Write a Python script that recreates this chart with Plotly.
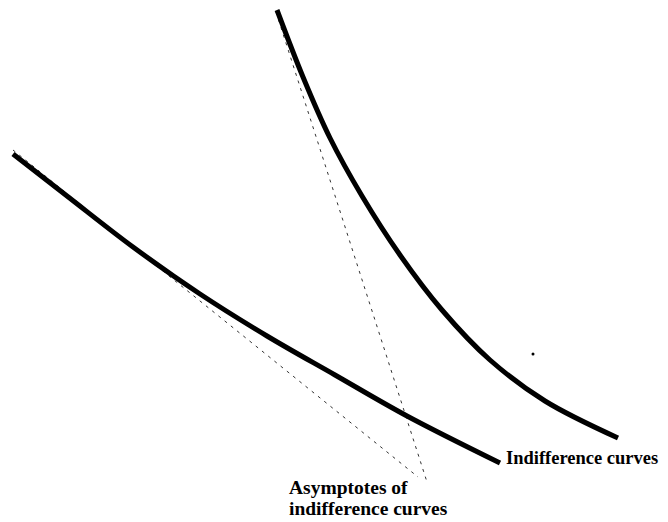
import plotly.graph_objects as go

# (pixel-like units, y grows downward)
lower_x = [13, 67, 133, 200, 267, 335, 407, 500]
lower_y = [154, 196, 247, 294, 336, 375, 416, 463]

upper_x = [277, 303, 330, 362, 400, 442, 490, 545, 618]
upper_y = [10, 77, 138, 196, 255, 310, 360, 401, 438]

asym_lower_x = [13, 418]
asym_lower_y = [150, 477]
asym_upper_x = [276, 427]
asym_upper_y = [12, 482]

stray_x = [533]
stray_y = [354]

label_curves = "Indifference curves"
label_asym_1 = "Asymptotes of"
label_asym_2 = "indifference curves"

# the page body adds an 8px margin; shift the ranges so units match window pixels
OFF = 8

fig = go.Figure()
for ax, ay in [(asym_lower_x, asym_lower_y), (asym_upper_x, asym_upper_y)]:
    fig.add_trace(go.Scatter(x=ax, y=ay, mode="lines",
                             line=dict(color="#333333", width=1, dash="3px,5px"),
                             hoverinfo="skip"))
for cx, cy in [(lower_x, lower_y), (upper_x, upper_y)]:
    fig.add_trace(go.Scatter(x=cx, y=cy, mode="lines", line_shape="spline",
                             line=dict(color="black", width=5, smoothing=1.0),
                             hoverinfo="skip"))
fig.add_trace(go.Scatter(x=stray_x, y=stray_y, mode="markers",
                         marker=dict(color="black", size=3), hoverinfo="skip"))

font_a = dict(family="Liberation Serif", size=18.5, color="black")
font_b = dict(family="Liberation Serif", size=19.5, color="black")
fig.add_annotation(x=504, y=458, text="<b>" + label_curves + "</b>", showarrow=False,
                   xanchor="left", yanchor="middle", font=font_a)
fig.add_annotation(x=287, y=487, text="<b>" + label_asym_1 + "</b>", showarrow=False,
                   xanchor="left", yanchor="middle", font=font_b)
fig.add_annotation(x=287, y=508, text="<b>" + label_asym_2 + "</b>", showarrow=False,
                   xanchor="left", yanchor="middle", font=font_b)

fig.update_layout(
    width=668, height=522,
    margin=dict(l=0, r=0, t=0, b=0),
    paper_bgcolor="white", plot_bgcolor="white",
    showlegend=False,
    xaxis=dict(range=[OFF, 668 + OFF], visible=False, fixedrange=True),
    yaxis=dict(range=[522 + OFF, OFF], visible=False, fixedrange=True),
)
fig.write_html("out.html")
